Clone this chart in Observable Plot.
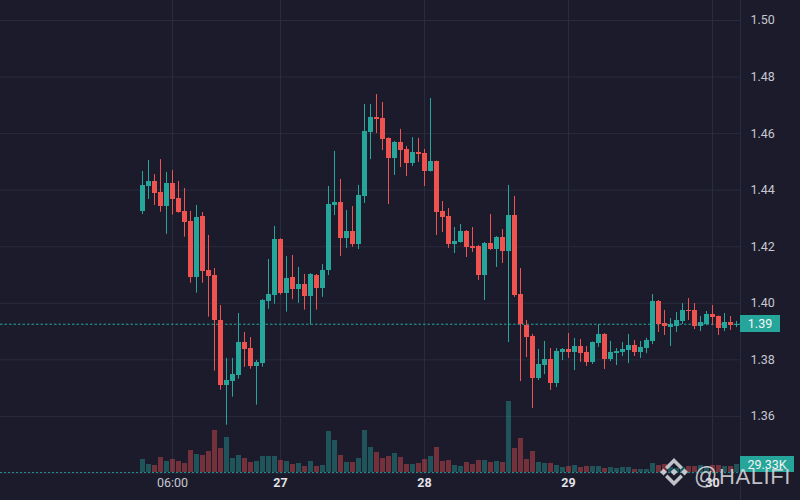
<!DOCTYPE html>
<html><head><meta charset="utf-8">
<script src="https://cdn.jsdelivr.net/npm/d3@7"></script>
<script src="https://cdn.jsdelivr.net/npm/@observablehq/plot@0.6"></script>
<style>
html,body{margin:0;padding:0;background:#1b1b2c;}
#chart{position:relative;width:800px;height:500px;background:#1b1b2c;overflow:hidden;font-family:Roboto,"Liberation Sans",sans-serif;}
#chart > svg{position:absolute;left:0;top:0;}
.tag{position:absolute;background:#26a69a;color:#f4f4f4;font:12.5px Roboto,"Liberation Sans",sans-serif;display:flex;align-items:center;justify-content:center;}
</style></head><body><div id="chart"></div>
<script>
const startTime = "2024-03-26T01:00:00Z";
const opens = [1.4325,1.4414,1.4431,1.4392,1.4343,1.4424,1.4371,1.4325,1.4289,1.4092,
1.4307,1.4116,1.4098,1.3939,1.3710,1.3725,1.3746,1.3861,1.3840,1.3778,
1.3788,1.4007,1.4029,1.4226,1.4035,1.4091,1.4049,1.4066,1.4024,1.4098,
1.4052,1.4116,1.4346,1.4356,1.4229,1.4254,1.4208,1.4378,1.4604,1.4657,
1.4653,1.4583,1.4512,1.4569,1.4544,1.4494,1.4533,1.4530,1.4466,1.4501,
1.4325,1.4307,1.4208,1.4215,1.4254,1.4201,1.4201,1.4098,1.4211,1.4190,
1.4233,1.4183,1.4310,1.4031,1.3921,1.3883,1.3734,1.3780,1.3801,1.3716,
1.3826,1.3837,1.3826,1.3847,1.3826,1.3791,1.3858,1.3890,1.3801,1.3822,
1.3826,1.3833,1.3851,1.3826,1.3840,1.3865,1.4006,1.3929,1.3914,1.3918,
1.3936,1.3975,1.3975,1.3918,1.3925,1.3960,1.3953,1.3911,1.3932,1.3923];
const highs = [1.4466,1.4505,1.4455,1.4508,1.4463,1.4470,1.4431,1.4406,1.4325,1.4346,
1.4321,1.4240,1.4123,1.3992,1.3805,1.3805,1.3964,1.3897,1.3879,1.3798,
1.4013,1.4155,1.4272,1.4228,1.4165,1.4169,1.4127,1.4102,1.4105,1.4102,
1.4137,1.4413,1.4537,1.4438,1.4328,1.4342,1.4417,1.4703,1.4703,1.4738,
1.4710,1.4585,1.4572,1.4615,1.4554,1.4586,1.4583,1.4544,1.4724,1.4503,
1.4360,1.4335,1.4268,1.4279,1.4257,1.4268,1.4204,1.4215,1.4314,1.4236,
1.4261,1.4417,1.4378,1.4123,1.3939,1.3890,1.3837,1.3865,1.3840,1.3840,
1.3840,1.3893,1.3876,1.3872,1.3847,1.3863,1.3925,1.3893,1.3865,1.3840,
1.3861,1.3890,1.3868,1.3865,1.3876,1.4031,1.4010,1.3975,1.3946,1.3967,
1.3999,1.4017,1.3999,1.3953,1.3971,1.3992,1.3955,1.3964,1.3953,1.3936];
const lows = [1.4314,1.4367,1.4346,1.4322,1.4244,1.4312,1.4319,1.4234,1.4071,1.4036,
1.4071,1.3951,1.3760,1.3693,1.3569,1.3668,1.3732,1.3774,1.3767,1.3640,
1.3774,1.3979,1.3997,1.4029,1.3969,1.4013,1.4000,1.3976,1.3923,1.3976,
1.4021,1.4098,1.4310,1.4165,1.4194,1.4198,1.4190,1.4353,1.4508,1.4600,
1.4540,1.4349,1.4452,1.4480,1.4448,1.4484,1.4498,1.4413,1.4464,1.4240,
1.4250,1.4194,1.4176,1.4213,1.4162,1.4180,1.4081,1.4010,1.4187,1.4127,
1.4141,1.3861,1.4021,1.3723,1.3808,1.3628,1.3727,1.3748,1.3692,1.3702,
1.3798,1.3805,1.3762,1.3791,1.3777,1.3784,1.3844,1.3766,1.3794,1.3780,
1.3812,1.3787,1.3812,1.3805,1.3822,1.3854,1.3897,1.3886,1.3847,1.3897,
1.3925,1.3939,1.3907,1.3900,1.3921,1.3921,1.3886,1.3900,1.3904,1.3914];
const closes = [1.4417,1.4431,1.4389,1.4343,1.4424,1.4368,1.4322,1.4287,1.4092,1.4303,
1.4114,1.4096,1.3940,1.3710,1.3727,1.3748,1.3861,1.3838,1.3778,1.3791,
1.4010,1.4031,1.4226,1.4035,1.4088,1.4049,1.4066,1.4024,1.4102,1.4052,
1.4116,1.4349,1.4356,1.4229,1.4254,1.4208,1.4381,1.4607,1.4657,1.4650,
1.4579,1.4512,1.4569,1.4540,1.4494,1.4533,1.4526,1.4466,1.4501,1.4321,
1.4303,1.4208,1.4219,1.4254,1.4197,1.4194,1.4098,1.4213,1.4190,1.4233,
1.4183,1.4310,1.4028,1.3925,1.3879,1.3734,1.3784,1.3801,1.3716,1.3830,
1.3837,1.3826,1.3847,1.3822,1.3791,1.3861,1.3890,1.3801,1.3826,1.3830,
1.3837,1.3851,1.3826,1.3844,1.3868,1.4006,1.3925,1.3918,1.3925,1.3939,
1.3975,1.3971,1.3918,1.3932,1.3960,1.3950,1.3911,1.3932,1.3921,1.3926];
const volumesK = [48.4,29.3,25.5,56.0,40.8,48.4,40.8,33.1,82.7,67.4,
63.6,78.9,158.9,90.3,132.2,52.2,63.6,52.2,37.0,40.8,
59.8,59.8,59.8,44.6,40.8,29.3,33.1,21.7,40.8,21.7,
25.5,155.1,120.8,63.6,37.0,37.0,52.2,158.9,94.1,75.1,
52.2,59.8,71.2,56.0,29.3,29.3,33.1,48.4,59.8,94.1,
40.8,44.6,25.5,21.7,37.0,29.3,44.6,44.6,37.0,40.8,
37.0,269.4,90.3,128.4,48.4,78.9,37.0,33.1,33.1,25.5,
17.9,21.7,25.5,17.9,21.7,21.7,21.7,14.1,17.9,14.1,
17.9,17.9,10.3,10.3,10.3,33.1,25.5,29.3,19.1,15.2,
19.1,21.7,21.7,25.5,21.7,25.5,25.5,21.0,22.9,29.33];
const priceTicks = [1.36,1.38,1.40,1.42,1.44,1.46,1.48,1.50];
const gridPrices = [1.34,1.36,1.38,1.40,1.42,1.44,1.46,1.48,1.50];
const timeTicks = ["2024-03-26T06:00:00Z","2024-03-27T00:00:00Z","2024-03-28T00:00:00Z","2024-03-29T00:00:00Z","2024-03-30T00:00:00Z"];
const timeTickLabels = ["06:00","27","28","29","30"];
const priceTagLabel = "1.39";
const volumeTagLabel = "29.33K";

const UP = "#26a69a", DOWN = "#ef5350", GRID = "#2a2b3d", AXIS = "#c6c8d0";
const W = 800, H = 500, MR = 60, MB = 28;
const xScale = {type: "utc", domain: [new Date("2024-03-25T01:20:00Z"), new Date("2024-03-30T04:40:00Z")], axis: null};
const yDomain = [1.34017, 1.50707];
const volDomain = [0, 1798.3];

const t0 = +new Date(startTime);
const candles = opens.map((o, i) => ({
  t: new Date(t0 + i * 3600e3), o, h: highs[i], l: lows[i], c: closes[i], v: volumesK[i], up: closes[i] >= o
}));
const ticks = timeTicks.map((s, i) => ({t: new Date(s), label: timeTickLabels[i], day: i > 0}));
const half = 25 * 60e3;
const bx1 = d => new Date(+d.t - half), bx2 = d => new Date(+d.t + half);
const upC = candles.filter(d => d.up), dnC = candles.filter(d => !d.up);
const base = {width: W, height: H, marginLeft: 0, marginRight: MR, marginTop: 0, marginBottom: MB,
  style: {background: "transparent", overflow: "visible"}};

const gridPlot = Plot.plot({...base, x: xScale, y: {domain: yDomain, axis: null},
  marks: [
    Plot.ruleY(gridPrices, {stroke: GRID, strokeWidth: 1}),
    Plot.ruleX(ticks, {x: "t", stroke: GRID, strokeWidth: 1})
  ]});

const volPlot = Plot.plot({...base, x: xScale, y: {domain: volDomain, axis: null},
  marks: [
    Plot.ruleY([0], {stroke: UP, strokeDasharray: "2,2", strokeOpacity: 0.8}),
    Plot.rect(upC, {x1: bx1, x2: bx2, y1: () => 0, y2: "v", fill: UP, fillOpacity: 0.42, shapeRendering: "crispEdges"}),
    Plot.rect(dnC, {x1: bx1, x2: bx2, y1: () => 0, y2: "v", fill: DOWN, fillOpacity: 0.42, shapeRendering: "crispEdges"})
  ]});

const lastClose = closes[closes.length - 1];
const candlePlot = Plot.plot({...base, x: xScale, y: {domain: yDomain, axis: null},
  marks: [
    Plot.ruleY([lastClose], {stroke: UP, strokeDasharray: "2.5,2", strokeWidth: 1}),
    Plot.ruleX(upC, {x: "t", y1: "l", y2: "h", stroke: UP, strokeWidth: 1}),
    Plot.ruleX(dnC, {x: "t", y1: "l", y2: "h", stroke: DOWN, strokeWidth: 1}),
    Plot.rect(upC, {x1: bx1, x2: bx2, y1: "o", y2: "c", fill: UP, shapeRendering: "crispEdges"}),
    Plot.rect(dnC, {x1: bx1, x2: bx2, y1: "o", y2: "c", fill: DOWN, shapeRendering: "crispEdges"}),
    Plot.text(priceTicks, {y: d => d, text: d => d.toFixed(2), frameAnchor: "right", dx: 10, textAnchor: "start",
      fill: AXIS, fontSize: 12.5, fontFamily: "Roboto, 'Liberation Sans', sans-serif"}),
    Plot.text(ticks.filter(d => !d.day), {x: "t", text: "label", frameAnchor: "bottom", dy: 14,
      fill: AXIS, fontSize: 12.5, fontFamily: "Roboto, 'Liberation Sans', sans-serif"}),
    Plot.text(ticks.filter(d => d.day), {x: "t", text: "label", frameAnchor: "bottom", dy: 14,
      fill: "#e2e3e8", fontWeight: "bold", fontSize: 12.5, fontFamily: "Roboto, 'Liberation Sans', sans-serif"})
  ]});

const chart = document.getElementById("chart");
chart.append(gridPlot, volPlot, candlePlot);

// right pane border
const border = document.createElement("div");
border.style.cssText = `position:absolute;left:${W - MR}px;top:0;width:1px;height:${H}px;background:${GRID};`;
chart.append(border);

// price tag
const yP = candlePlot.scale("y").apply(lastClose);
const pTag = document.createElement("div");
pTag.className = "tag";
pTag.textContent = priceTagLabel;
pTag.style.cssText += `left:${W - MR}px;top:${yP - 8.5}px;width:40px;height:17px;`;
chart.append(pTag);

// volume tag
const yV = volPlot.scale("y").apply(volumesK[volumesK.length - 1]);
const vTag = document.createElement("div");
vTag.className = "tag";
vTag.textContent = volumeTagLabel;
vTag.style.cssText += `left:${W - MR}px;top:${yV - 8}px;width:54px;height:16px;`;
chart.append(vTag);

// watermark
const ns = "http://www.w3.org/2000/svg";
const wm = document.createElementNS(ns, "svg");
wm.setAttribute("width", W); wm.setAttribute("height", H);
wm.style.cssText = "position:absolute;left:0;top:0;pointer-events:none;";
wm.innerHTML = `
<g transform="translate(658,456)" fill="#d8d8de" fill-opacity="0.88">
  <polygon points="16,12.5 19.5,16 16,19.5 12.5,16"/>
  <polygon points="5.5,12.5 9,16 5.5,19.5 2,16"/>
  <polygon points="26.5,12.5 30,16 26.5,19.5 23,16"/>
  <polygon points="16,2 25,11 22.5,13.5 16,7 9.5,13.5 7,11"/>
  <polygon points="16,30 25,21 22.5,18.5 16,25 9.5,18.5 7,21"/>
</g>
<text x="694" y="484" fill="#d8d8de" fill-opacity="0.88" font-family="'Liberation Sans', Arial, sans-serif" font-size="23">@</text>
<text x="719" y="484" fill="#d8d8de" fill-opacity="0.88" font-family="'Liberation Sans', Arial, sans-serif" font-size="22" letter-spacing="0.6">HALIFI</text>`;
chart.append(wm);
</script></body></html>
